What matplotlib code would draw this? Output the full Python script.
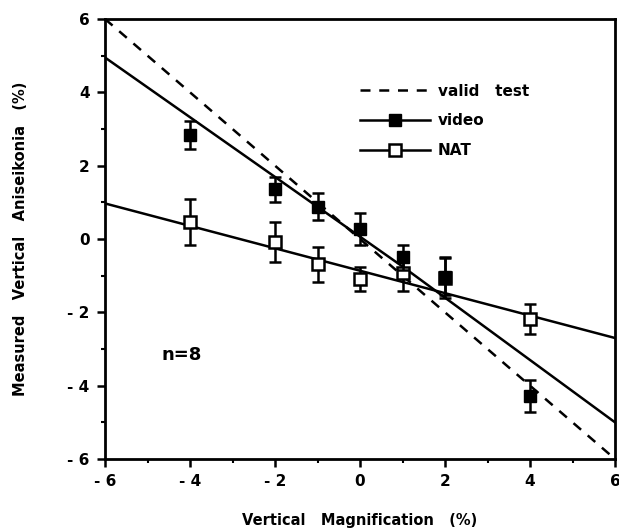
import matplotlib
matplotlib.use("Agg")
import matplotlib.pyplot as plt
from matplotlib.lines import Line2D
from matplotlib.ticker import MultipleLocator

# Daten
mag = [-4, -2, -1, 0, 1, 2, 4]
video_y = [2.84, 1.36, 0.88, 0.27, -0.50, -1.03, -4.28]
video_err = [0.38, 0.34, 0.37, 0.44, 0.34, 0.50, 0.44]
nat_y = [0.46, -0.08, -0.69, -1.10, -0.93, -1.05, -2.18]
nat_err = [0.62, 0.55, 0.48, 0.33, 0.50, 0.55, 0.42]

# Regressionslinien
video_fit_x = [-6, 1, 6]
video_fit_y = [4.95, -0.75, -5.0]
nat_fit_x = [-6, 6]
nat_fit_y = [0.97, -2.70]
valid_x = [-6, 6]
valid_y = [6, -6]

ticks = [-6, -4, -2, 0, 2, 4, 6]
tick_labels = ["- 6", "- 4", "- 2", "0", "2", "4", "6"]

plt.rcParams["font.family"] = ["DejaVu Sans"]
plt.rcParams["font.weight"] = "bold"
plt.rcParams["axes.labelweight"] = "bold"

fig = plt.figure(figsize=(6.19, 5.32), dpi=100)
ax = fig.add_axes([105 / 619, 1 - 459 / 532, 510 / 619, 440 / 532])

ax.plot(valid_x, valid_y, "k--", lw=1.8, dashes=(4, 3.5))
ax.plot(video_fit_x, video_fit_y, "k-", lw=1.8)
ax.plot(nat_fit_x, nat_fit_y, "k-", lw=1.8)

ax.errorbar(mag, nat_y, yerr=nat_err, fmt="s", color="k", mfc="white", mec="k",
            mew=1.8, ms=8, capsize=4, elinewidth=1.8, capthick=1.8, zorder=3)
ax.errorbar(mag, video_y, yerr=video_err, fmt="s", color="k", mfc="k", mec="k",
            ms=9, capsize=4, elinewidth=1.8, capthick=1.8, zorder=4)

ax.set_xlim(-6, 6)
ax.set_ylim(-6, 6)
ax.set_xticks(ticks)
ax.set_xticklabels(tick_labels)
ax.set_yticks(ticks)
ax.set_yticklabels(tick_labels)
ax.xaxis.set_minor_locator(MultipleLocator(1))
ax.yaxis.set_minor_locator(MultipleLocator(1))
ax.tick_params(which="major", direction="out", length=6, width=1.8, labelsize=11, pad=5)
ax.tick_params(which="minor", direction="out", length=3, width=1.5)
for s in ax.spines.values():
    s.set_linewidth(2)

ax.set_xlabel("Vertical   Magnification   (%)", fontsize=10.5, labelpad=17)
ax.set_ylabel("Measured   Vertical   Aniseikonia   (%)", fontsize=10.5, labelpad=28)

ax.text(-4.2, -3.15, "n=8", fontsize=13, ha="center", va="center")

handles = [
    Line2D([], [], color="k", ls="--", lw=1.8, dashes=(4, 3.5)),
    Line2D([], [], color="k", lw=1.8, marker="s", mfc="k", ms=9),
    Line2D([], [], color="k", lw=1.8, marker="s", mfc="white", mew=1.8, ms=8),
]
ax.legend(handles, ["valid   test", "video", "NAT"], loc="upper left",
          bbox_to_anchor=(0.485, 0.87), frameon=False, fontsize=11,
          handlelength=4.6, handletextpad=0.5, labelspacing=0.95, borderpad=0)

fig.savefig("out.png", dpi=100)
